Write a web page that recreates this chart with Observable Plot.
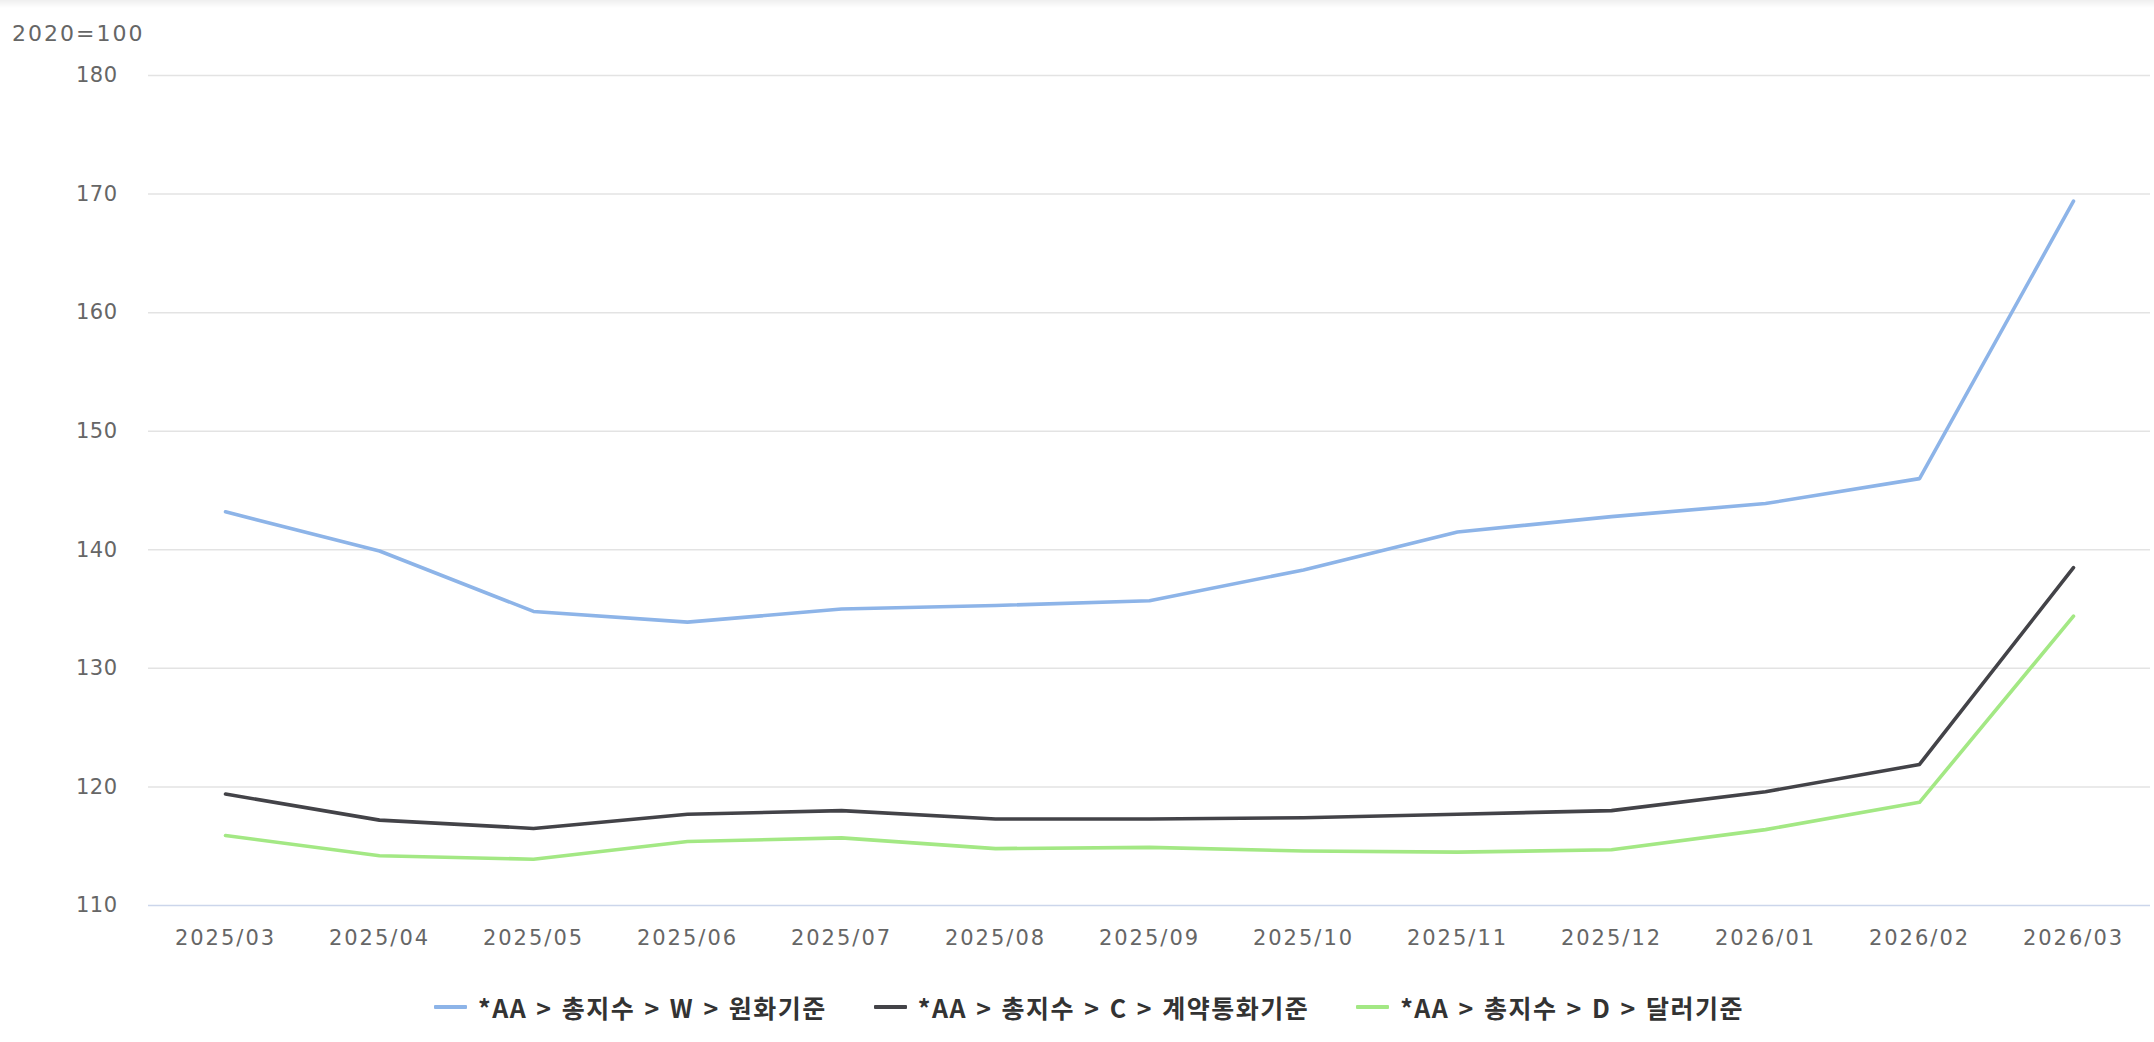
<!DOCTYPE html>
<html>
<head>
<meta charset="utf-8">
<script src="https://cdn.jsdelivr.net/npm/d3@7"></script>
<script src="https://cdn.jsdelivr.net/npm/@observablehq/plot@0.6"></script>
<style>
  html, body { margin: 0; padding: 0; background: #fff; }
  #wrap { position: relative; width: 2154px; height: 1042px; overflow: hidden; }
  #shade { position: absolute; left: 0; top: 0; width: 2154px; height: 8px;
           background: linear-gradient(#efefef, rgba(255,255,255,0)); }
  #unit { position: absolute; left: 12px; top: 20px; font-family: "DejaVu Sans", sans-serif;
          font-size: 22px; letter-spacing: 2px; color: #666; line-height: 28px; }
  #chart svg text { letter-spacing: 2px; }
  #chart svg g[aria-label="y-axis tick label"] text { letter-spacing: 0.5px; }
  #legend { position: absolute; left: 434px; top: 989px; height: 36px; display: flex; align-items: center;
            font-family: "Noto Sans CJK KR", sans-serif; font-weight: bold; font-size: 25px;
            letter-spacing: 1.5px; word-spacing: 2px; color: #333; }
  .item { display: flex; align-items: center; margin-right: 47px; white-space: pre; }
  .sw { width: 33px; height: 4px; margin-right: 11px; border-radius: 1px; }
</style>
</head>
<body>
<div id="wrap">
  <div id="chart"></div>
  <div id="shade"></div>
  <div id="unit">2020=100</div>
  <div id="legend"></div>
</div>
<script>
const months = ["2025/03","2025/04","2025/05","2025/06","2025/07","2025/08","2025/09","2025/10","2025/11","2025/12","2026/01","2026/02","2026/03"];
const seriesNames = ["*AA > 총지수 > W > 원화기준", "*AA > 총지수 > C > 계약통화기준", "*AA > 총지수 > D > 달러기준"];
const seriesColors = ["#8db4e8", "#434348", "#a3e884"];
const wonBasis =      [143.2, 139.9, 134.8, 133.9, 135.0, 135.3, 135.7, 138.3, 141.5, 142.8, 143.9, 146.0, 169.4];
const contractBasis = [119.4, 117.2, 116.5, 117.7, 118.0, 117.3, 117.3, 117.4, 117.7, 118.0, 119.6, 121.9, 138.5];
const dollarBasis =   [115.9, 114.2, 113.9, 115.4, 115.7, 114.8, 114.9, 114.6, 114.5, 114.7, 116.4, 118.7, 134.4];
const yTicks = [110, 120, 130, 140, 150, 160, 170, 180];

const allSeries = [wonBasis, contractBasis, dollarBasis];
const rows = allSeries.map((vals, s) => months.map((m, i) => ({month: m, value: vals[i], series: seriesNames[s]})));

const chart = Plot.plot({
  width: 2154,
  height: 960,
  marginLeft: 148,
  marginRight: 4,
  marginTop: 75,
  marginBottom: 55,
  style: {fontFamily: "DejaVu Sans, sans-serif", fontSize: "21px", color: "#666", background: "transparent"},
  x: {type: "point", domain: months, padding: 0.5, label: null},
  y: {domain: [110, 180], label: null},
  marks: [
    Plot.ruleY(yTicks.slice(1), {stroke: "#e3e3e3", strokeWidth: 1.5}),
    Plot.ruleY([yTicks[0]], {stroke: "#ccd6eb", strokeWidth: 1.5}),
    ...rows.map((r, s) => Plot.line(r, {x: "month", y: "value", stroke: seriesColors[s], strokeWidth: 3.6, strokeLinejoin: "round", strokeLinecap: "round"})),
    Plot.axisX({tickSize: 0, tickPadding: 25, label: null}),
    Plot.axisY({ticks: yTicks, tickSize: 0, tickPadding: 31, label: null})
  ]
});
document.getElementById("chart").appendChild(chart);

const legend = document.getElementById("legend");
seriesNames.forEach((name, i) => {
  const item = document.createElement("div");
  item.className = "item";
  const sw = document.createElement("div");
  sw.className = "sw";
  sw.style.background = seriesColors[i];
  const t = document.createElement("span");
  t.textContent = name;
  item.appendChild(sw);
  item.appendChild(t);
  legend.appendChild(item);
});
</script>
</body>
</html>
